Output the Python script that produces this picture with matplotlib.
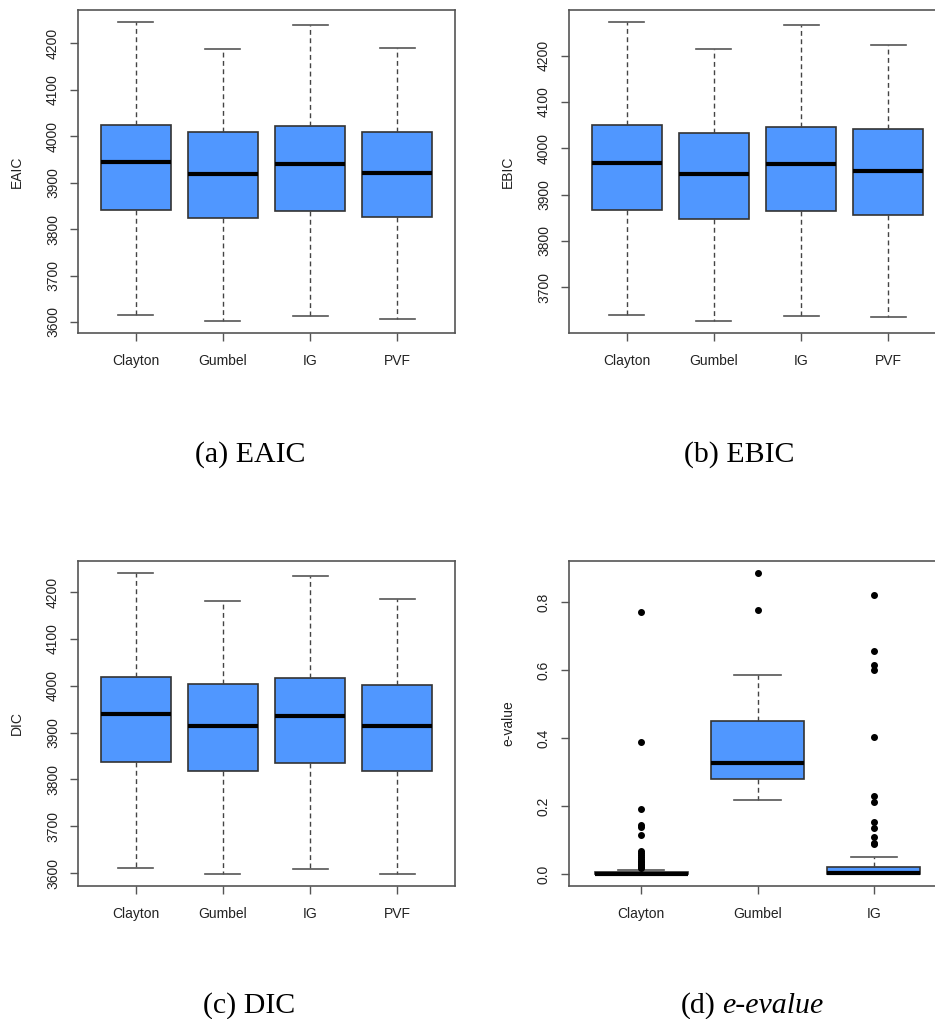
import matplotlib
matplotlib.use("Agg")
import matplotlib.pyplot as plt

groups4 = ["Clayton", "Gumbel", "IG", "PVF"]
groups3 = ["Clayton", "Gumbel", "IG"]

# box stats: whislo, q1, med, q3, whishi
eaic_stats = [
    [3616, 3841, 3944, 4024, 4246],
    [3602, 3823, 3919, 4008, 4187],
    [3613, 3839, 3941, 4021, 4240],
    [3606, 3825, 3921, 4010, 4191],
]
ebic_stats = [
    [3641, 3867, 3969, 4050, 4273],
    [3627, 3848, 3945, 4034, 4214],
    [3638, 3865, 3966, 4047, 4267],
    [3636, 3855, 3952, 4042, 4224],
]
dic_stats = [
    [3610, 3837, 3940, 4019, 4241],
    [3598, 3819, 3915, 4003, 4182],
    [3608, 3835, 3936, 4017, 4235],
    [3598, 3819, 3915, 4002, 4185],
]
evalue_stats = [
    [0.0, 0.0, 0.001, 0.005, 0.012],
    [0.219, 0.281, 0.328, 0.451, 0.585],
    [0.0, 0.0, 0.002, 0.0195, 0.049],
]
evalue_fliers = [
    [0.770, 0.388, 0.192, 0.143, 0.137, 0.116, 0.069, 0.062, 0.057,
     0.050, 0.044, 0.039, 0.034, 0.029, 0.025, 0.021, 0.018],
    [0.886, 0.778],
    [0.821, 0.655, 0.615, 0.600, 0.403, 0.229, 0.211, 0.154, 0.136,
     0.110, 0.092, 0.087],
]

eaic_ticks = [3600, 3700, 3800, 3900, 4000, 4100, 4200]
ebic_ticks = [3700, 3800, 3900, 4000, 4100, 4200]
dic_ticks = [3600, 3700, 3800, 3900, 4000, 4100, 4200]
evalue_ticks = [0.0, 0.2, 0.4, 0.6, 0.8]

box_col = "#5097FF"
edge_col = "#333333"
frame_col = "#555555"

W, H = 935, 1019
fig = plt.figure(figsize=(W / 100, H / 100), dpi=100)


def make_stats(rows, names, fliers=None):
    out = []
    for i, (lo, q1, med, q3, hi) in enumerate(rows):
        out.append(dict(label=names[i], whislo=lo, q1=q1, med=med, q3=q3,
                        whishi=hi, fliers=fliers[i] if fliers else []))
    return out


def panel(rect, stats, ticks, ylabel, ticklabels_fmt):
    ax = fig.add_axes(rect)
    n = len(stats)
    ax.bxp(stats, positions=range(1, n + 1), widths=0.8, capwidths=0.4,
           patch_artist=True, showfliers=True,
           boxprops=dict(facecolor=box_col, edgecolor=edge_col, linewidth=1.2),
           medianprops=dict(color="black", linewidth=3, solid_capstyle="butt"),
           whiskerprops=dict(color="#444444", linewidth=1, linestyle=(0, (3.5, 2.5))),
           capprops=dict(color="#555555", linewidth=1.2),
           flierprops=dict(marker="o", markerfacecolor="black",
                           markeredgecolor="black", markersize=4))
    # R style axis extension of 4 %
    lo = min(min(s["whislo"], *(s["fliers"] or [s["whislo"]])) for s in stats)
    hi = max(max(s["whishi"], *(s["fliers"] or [s["whishi"]])) for s in stats)
    r = hi - lo
    ax.set_ylim(lo - 0.04 * r, hi + 0.04 * r)
    ax.set_xlim(0.5 - 0.04 * n, n + 0.5 + 0.04 * n)
    ax.set_yticks(ticks)
    ax.set_yticklabels([ticklabels_fmt(t) for t in ticks])
    ax.set_xticks(range(1, n + 1))
    ax.set_xticklabels([s["label"] for s in stats])
    ax.tick_params(axis="both", length=6, width=1, color=frame_col,
                   labelsize=10, labelcolor="#222222")
    ax.tick_params(axis="y", pad=7, labelrotation=90)
    ax.tick_params(axis="x", pad=9)
    for lab in ax.get_yticklabels():
        lab.set_va("center")
    for sp in ax.spines.values():
        sp.set_color(frame_col)
        sp.set_linewidth(1.2)
    ax.set_ylabel(ylabel, fontsize=10, color="#222222")
    ax.yaxis.set_label_coords(-0.143, 0.5)
    return ax


plt.rcParams["font.family"] = ["Liberation Sans", "DejaVu Sans"]

aw = 377 / W
ah_top = 323 / H
ah_bot = 325 / H
panel([78 / W, 1 - 333 / H, aw, ah_top], make_stats(eaic_stats, groups4),
      eaic_ticks, "EAIC", lambda t: f"{t:d}")
panel([569 / W, 1 - 333 / H, aw, ah_top], make_stats(ebic_stats, groups4),
      ebic_ticks, "EBIC", lambda t: f"{t:d}")
panel([78 / W, 1 - 886 / H, aw, ah_bot], make_stats(dic_stats, groups4),
      dic_ticks, "DIC", lambda t: f"{t:d}")
panel([569 / W, 1 - 886 / H, aw, ah_bot],
      make_stats(evalue_stats, groups3, evalue_fliers),
      evalue_ticks, "e-value", lambda t: f"{t:.1f}")

cap = dict(family=["Liberation Serif", "DejaVu Serif"], fontsize=21.5,
           va="center", color="black")
fig.text(250 / W, 1 - 455 / H, "(a) EAIC", ha="center", **cap)
fig.text(739 / W, 1 - 455 / H, "(b) EBIC", ha="center", **cap)
fig.text(249 / W, 1 - 1006 / H, "(c) DIC", ha="center", **cap)
fig.text(681 / W, 1 - 1006 / H, "(d)", ha="left", **cap)
fig.text(722 / W, 1 - 1006 / H, "e-evalue", ha="left", style="italic", **cap)

fig.savefig("out.png", dpi=100)
